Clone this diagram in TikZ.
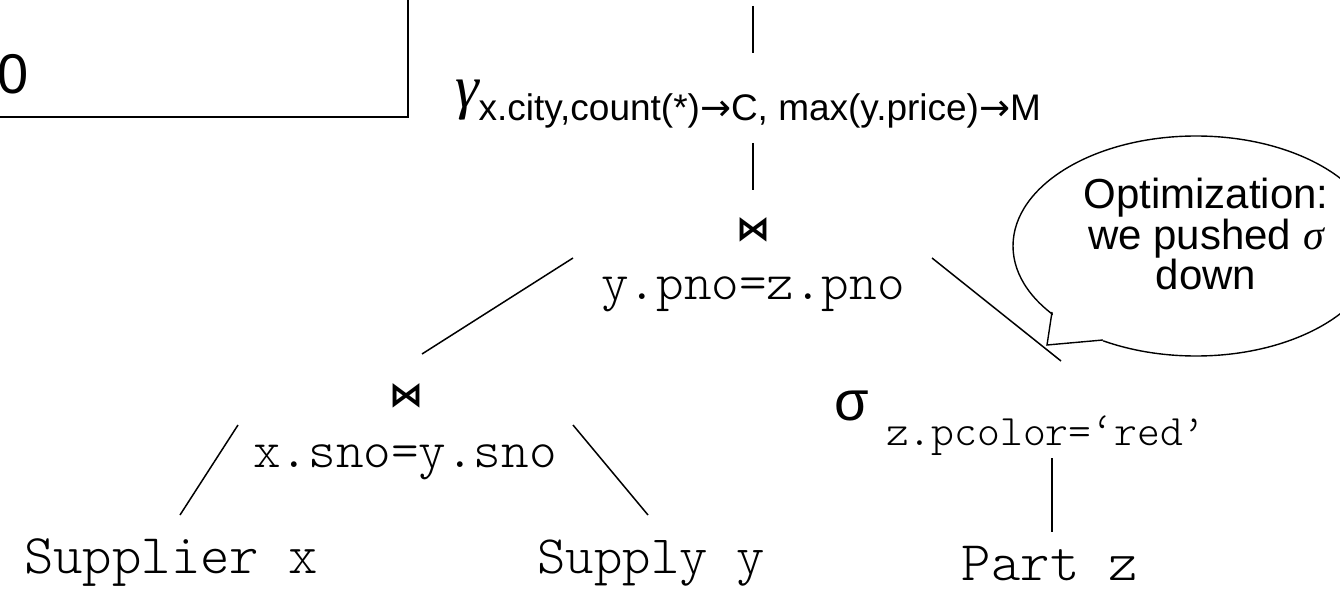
\documentclass[tikz,border=0pt]{standalone}
\usepackage{fontspec}
\setmainfont{Liberation Sans}
\newfontfamily\monof{lmmonolt10-regular.otf}
\newfontfamily\seriff{Liberation Serif}
\newfontfamily\dejavu{DejaVu Sans}
\usetikzlibrary{shapes.geometric}
\newcommand\myfs[1]{\fontsize{#1}{#1}\selectfont}
\begin{document}
\begin{tikzpicture}[x=1pt,y=-1pt,
  every node/.style={inner sep=0pt, outer sep=0pt},
  ln/.style={line width=1.5pt},
  relname/.style={font=\monof\myfs{56}, anchor=base},
  cond/.style={font=\monof\myfs{52.5}, anchor=base},
  bowtie/.style={font=\dejavu\bfseries\myfs{34}}]
\useasboundingbox (0,0) rectangle (1340,593);
\begin{scope}
\clip (0,0) rectangle (1340,593);
% partial box at top left
\node (box) [draw, line width=2.4pt, minimum width=440pt, minimum height=150pt, anchor=south east] at (408,117) {};
\node (zero) [anchor=base west, font=\myfs{56}] at (-2,94) {0};

% gamma operator
\coordinate (top) at (753,6);
\coordinate (gtop) at (753,53);
\node (gamma) [anchor=base west] at (455,108)
  {{\seriff\itshape\myfs{60}γ}\raisebox{-13pt}{\myfs{37}x.city,count(*){\dejavu→}C, max(y.price){\dejavu→}M}};
\coordinate (gbot) at (753,143);
\coordinate (j1top) at (753,190);

% upper join
\node (j1) [bowtie] at (753,230) {⋈};
\node (c1) [cond] at (753,300) {y.pno=z.pno};
\coordinate (c1l) at (573,258);
\coordinate (c1r) at (932,258);
\coordinate (j2top) at (422,354);
\coordinate (s1top) at (1061,361);

% lower join
\node (j2) [bowtie] at (406,396) {⋈};
\node (c2) [cond] at (405,467) {x.sno=y.sno};
\coordinate (c2l) at (238,425);
\coordinate (c2r) at (573,425);
\coordinate (supx) at (180,515);
\coordinate (supy) at (648,515);

% selection
\node (sig) [anchor=base west, font=\myfs{56}] at (834,420) {σ};
\node (sc) [anchor=base west, font=\monof\myfs{43.5}] at (886,445) {z.pcolor=‘red’};
\coordinate (sbot) at (1052,458);
\coordinate (ptop) at (1052,532);

% relations
\node (supplier) [relname] at (171,573) {Supplier x};
\node (supply) [relname, font=\monof\myfs{54}] at (651,573) {Supply y};
\node (part) [relname] at (1050,580) {Part z};

% connectors
\draw[ln] (top) -- (gtop);
\draw[ln] (gbot) -- (j1top);
\draw[ln] (c1l) -- (j2top);
\draw[ln] (c1r) -- (s1top);
\draw[ln] (c2l) -- (supx);
\draw[ln] (c2r) -- (supy);
\draw[ln] (sbot) -- (ptop);

% speech bubble
\node (bubble) [ellipse, draw, line width=1.4pt, fill=white, minimum width=366pt, minimum height=220pt] at (1196,246) {};
\node (btext) [align=center, font={\fontsize{42}{35}\selectfont}] at (1206,234)
  {Optimization:\\we pushed {\seriff\itshape σ}\\down};
\coordinate (t1) at (1052,312);
\coordinate (tip) at (1047,345);
\coordinate (t2) at (1103,340);
\fill[white] (1054,307) -- (1050,343) -- (1101,344) -- (1106,336) -- cycle;
\draw[line width=1.4pt, line join=miter] (t1) -- (tip) -- (t2);
\end{scope}
\end{tikzpicture}
\end{document}
